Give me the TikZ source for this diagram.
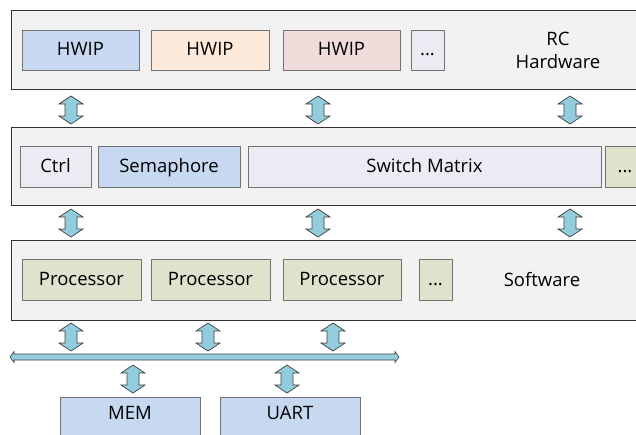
\documentclass[tikz,border=0pt]{standalone}
\usepackage{fontspec}
\setmainfont{Open Sans}
\begin{document}
\begin{tikzpicture}[x=1pt,y=-1pt,
  layer/.style={draw=black!80, fill=black!5, line width=0.8pt},
  blk/.style={draw=black!55, line width=0.8pt, font=\fontsize{18.5}{23}\selectfont, inner sep=0pt, text height=13.5pt, text depth=2pt},
  lbl/.style={font=\fontsize{18.5}{23}\selectfont, align=center, inner sep=0pt},
  arr/.style={draw=black!75, fill=arrcol, line width=0.7pt},
  pics/vdarrow/.style={code={
    \path[arr] (0,-14) -- (12,-6) -- (6,-6) -- (6,6) -- (12,6) -- (0,14) -- (-12,6) -- (-6,6) -- (-6,-6) -- (-12,-6) -- cycle;}}
]
\definecolor{arrcol}{HTML}{93CDDD}
\definecolor{cblue}{HTML}{C6D9F1}
\definecolor{cpeach}{HTML}{FDEADA}
\definecolor{cpink}{HTML}{F2DCDB}
\definecolor{clav}{HTML}{ECEAF2}
\definecolor{colive}{HTML}{DDE3CD}
\useasboundingbox (0,0) rectangle (636,434);
\clip (0,0) rectangle (636,434);

% layer 1
\node[layer, anchor=north west, minimum width=640, minimum height=79] (L1) at (11,10) {};
\node[blk, fill=cblue, minimum width=117, minimum height=40] (h1) at (80.5,50) {HWIP};
\node[blk, fill=cpeach, minimum width=118, minimum height=40] (h2) at (210,50) {HWIP};
\node[blk, fill=cpink, minimum width=117, minimum height=40] (h3) at (341.5,50) {HWIP};
\node[blk, fill=clav, minimum width=33, minimum height=40] (h4) at (427.5,50) {...};
\node[lbl] (rc) at (558,50) {RC\\Hardware};

% layer 2
\node[layer, anchor=north west, minimum width=640, minimum height=78] (L2) at (11,127) {};
\node[blk, fill=clav, minimum width=71, minimum height=41] (ctrl) at (55.5,166.5) {Ctrl};
\node[blk, fill=cblue, minimum width=142, minimum height=41] (sem) at (169,166.5) {Semaphore};
\node[blk, fill=clav, minimum width=353, minimum height=41] (sw) at (424.5,166.5) {Switch Matrix};
\node[blk, fill=colive, minimum width=40, minimum height=41] (d2) at (625,166.5) {...};

% layer 3
\node[layer, anchor=north west, minimum width=640, minimum height=80] (L3) at (11,240) {};
\node[blk, fill=colive, minimum width=119, minimum height=41] (p1) at (81.5,279.5) {Processor};
\node[blk, fill=colive, minimum width=119, minimum height=41] (p2) at (210.5,279.5) {Processor};
\node[blk, fill=colive, minimum width=118, minimum height=41] (p3) at (342,279.5) {Processor};
\node[blk, fill=colive, minimum width=33, minimum height=41] (p4) at (435.5,279.5) {...};
\node[lbl] (soft) at (542,279.5) {Software};

% arrows between layers
\pic at (71,110) {vdarrow};
\pic at (318,110) {vdarrow};
\pic at (570,110) {vdarrow};
\pic at (71,223) {vdarrow};
\pic at (318,223) {vdarrow};
\pic at (570,223) {vdarrow};
\pic at (71,337) {vdarrow};
\pic at (208,337) {vdarrow};
\pic at (333,337) {vdarrow};

% bus
\path[arr, line width=0.6pt] (10,357) -- (14,351.5) -- (14,354) -- (395,354) -- (395,351.5) -- (399,357) -- (395,362.5) -- (395,360) -- (14,360) -- (14,362.5) -- cycle;

\pic at (133,379) {vdarrow};
\pic at (287,379) {vdarrow};

% bottom devices
\node[blk, fill=cblue, anchor=north west, minimum width=140, minimum height=44] (mem) at (60,397) {};
\node[lbl] at (130,413) {MEM};
\node[blk, fill=cblue, anchor=north west, minimum width=140, minimum height=44] (uart) at (220,397) {};
\node[lbl] at (290,413) {UART};
\end{tikzpicture}
\end{document}
